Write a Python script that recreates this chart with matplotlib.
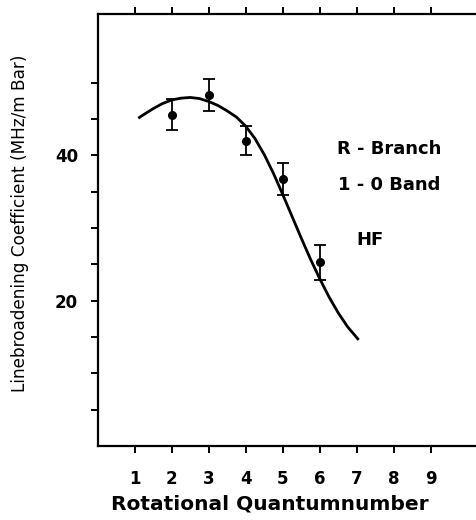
import matplotlib
matplotlib.use("Agg")
import matplotlib.pyplot as plt

# Measured data (rotational quantum number J, line broadening coefficient)
j_meas = [2, 3, 4, 5, 6]
coef_meas = [45.6, 48.3, 42.0, 36.7, 25.3]
coef_err = [2.1, 2.2, 2.0, 2.2, 2.4]

# Theoretical curve
j_curve = [1.1, 1.25, 1.5, 1.75, 2.0, 2.25, 2.5, 2.75, 3.0, 3.25, 3.5, 3.75,
           4.0, 4.25, 4.5, 4.75, 5.0, 5.25, 5.5, 5.75, 6.0, 6.25, 6.5, 6.75, 7.05]
coef_curve = [45.1, 45.6, 46.4, 47.1, 47.6, 47.85, 47.95, 47.8, 47.4, 46.85, 46.1, 45.25,
              44.0, 42.3, 40.1, 37.5, 34.6, 31.6, 28.6, 25.7, 23.0, 20.5, 18.3, 16.4, 14.6]

x_ticks = [1, 2, 3, 4, 5, 6, 7, 8, 9]
y_ticks = [5, 10, 15, 20, 25, 30, 35, 40, 45, 50]
y_ticklabels = ["", "", "", "20", "", "", "", "40", "", ""]

fig = plt.figure(figsize=(4.76, 5.2), dpi=100)
W, H = 476, 520
left_px, bottom_px, top_px = 97.5, 446.0, 13.5
ax_w = 389
ax_h = bottom_px - top_px
ax = fig.add_axes([left_px / W, 1 - bottom_px / H, ax_w / W, ax_h / H])

ax.plot(j_curve, coef_curve, color="black", lw=2.0, solid_capstyle="butt")
ax.errorbar(j_meas, coef_meas, yerr=coef_err, fmt="o", color="black",
            markersize=5.5, elinewidth=1.3, capsize=4, capthick=1.3)

ax.set_xlim(0, 10.5)
ax.set_ylim(0, 59.5)

ax.set_xticks(x_ticks)
ax.set_xticklabels([str(v) for v in x_ticks], fontsize=12, fontweight="bold")
ax.set_yticks(y_ticks)
ax.set_yticklabels(y_ticklabels, fontsize=12, fontweight="bold")
ax.tick_params(axis="both", direction="out", length=5, width=1.4)
ax.tick_params(axis="y", pad=9)
ax.tick_params(axis="x", top=True, labeltop=False, pad=12)

for side in ["left", "bottom", "top", "right"]:
    ax.spines[side].set_linewidth(1.6)

ax.set_ylabel("Linebroadening Coefficient (MHz/m Bar)", fontsize=12.2)
ax.yaxis.set_label_coords((20 - left_px) / ax_w, (bottom_px - 223) / ax_h)
ax.yaxis.label.set_va("center")
ax.set_xlabel("Rotational Quantumnumber", fontsize=14.5, fontweight="bold")
ax.xaxis.set_label_coords((270 - left_px) / ax_w, -(504 - bottom_px) / ax_h)
ax.xaxis.label.set_va("center")


def place(txt, xp, yp):
    ax.text((xp - left_px) / ax_w, (bottom_px - yp) / ax_h, txt,
            transform=ax.transAxes, ha="center", va="center",
            fontsize=13, fontweight="bold")


place("R - Branch", 389.5, 149)
place("1 - 0 Band", 389.5, 185)
place("HF", 370, 240)

fig.savefig("out.png", dpi=100)
